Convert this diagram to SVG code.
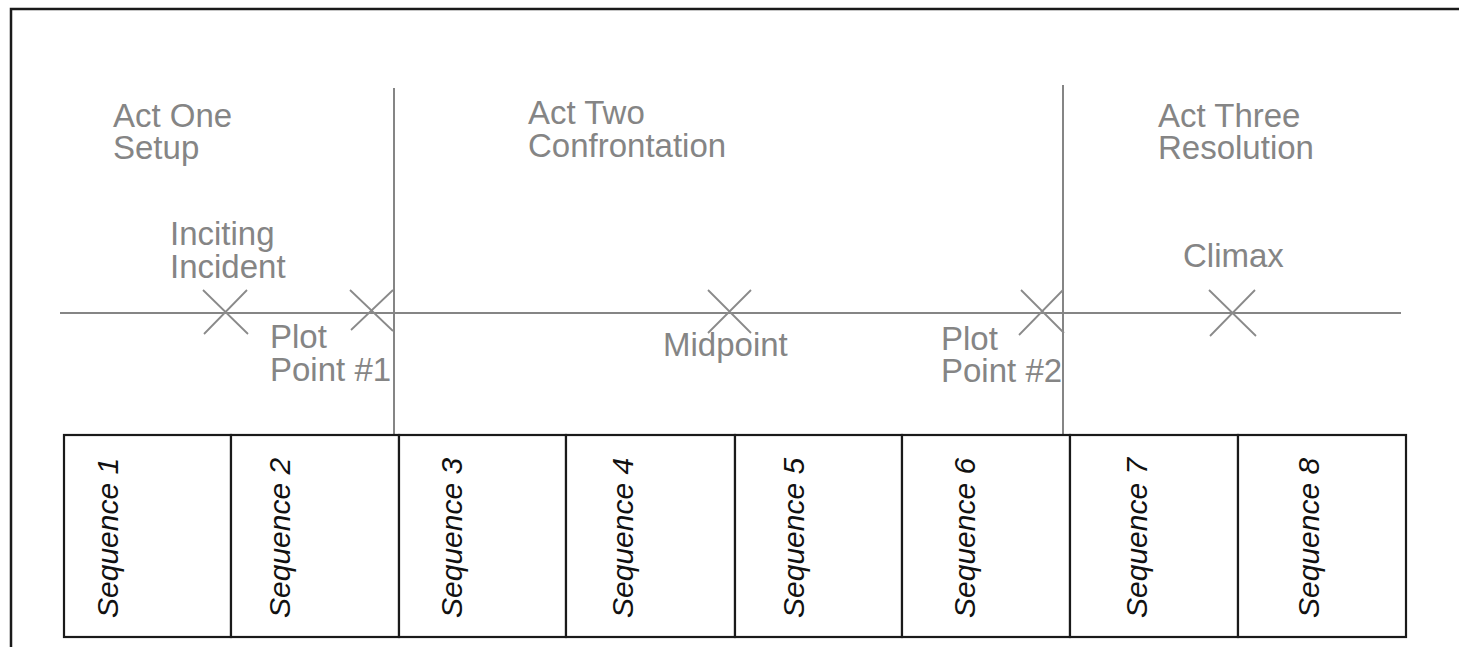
<svg xmlns="http://www.w3.org/2000/svg" width="1459" height="647" viewBox="0 0 1459 647">
<style>
.lbl{font-family:"Liberation Sans",Arial,sans-serif;font-size:33px;fill:#858585}
.seq{font-family:"Liberation Sans",Arial,sans-serif;font-size:30px;font-style:italic;fill:#111}
.gl{stroke:#858585;stroke-width:2;fill:none}
.xm{stroke:#8a8a8a;stroke-width:1.8;fill:none}
.box{stroke:#1a1a1a;stroke-width:2.2;fill:#fff}
</style>
<rect x="0" y="0" width="1459" height="647" fill="#fff"/>
<rect id="frame" x="11" y="9" width="1470" height="660" fill="none" stroke="#1a1a1a" stroke-width="2.5"/>
<g id="connectors">
<line class="gl" x1="60" y1="313" x2="1401" y2="313"/>
<line class="gl" x1="394" y1="88" x2="394" y2="435"/>
<line class="gl" x1="1063" y1="85" x2="1063" y2="435"/>
</g>
<g id="act-one"><text class="lbl" x="113" y="127">Act One</text><text class="lbl" x="113" y="159">Setup</text></g>
<g id="act-two"><text class="lbl" x="528" y="124">Act Two</text><text class="lbl" x="528" y="157">Confrontation</text></g>
<g id="act-three"><text class="lbl" x="1158" y="127">Act Three</text><text class="lbl" x="1158" y="159">Resolution</text></g>
<g id="inciting-incident"><text class="lbl" x="170" y="245">Inciting</text><text class="lbl" x="170" y="278">Incident</text><path class="xm" d="M203 290 L248 334 M247 290 L204 334"/></g>
<g id="plot-point-1"><text class="lbl" x="270" y="348">Plot</text><text class="lbl" x="270" y="381">Point #1</text><path class="xm" d="M350 290 L393 331 M393 290 L351 330"/></g>
<g id="midpoint"><text class="lbl" x="663" y="356">Midpoint</text><path class="xm" d="M708 290 L751 333 M751 290 L708 333"/></g>
<g id="plot-point-2"><text class="lbl" x="941" y="350">Plot</text><text class="lbl" x="941" y="382">Point #2</text><path class="xm" d="M1021 290 L1064 333 M1063 290 L1019 335"/></g>
<g id="climax"><text class="lbl" x="1183" y="267">Climax</text><path class="xm" d="M1209 290 L1256 336 M1255 290 L1210 336"/></g>
<g id="sequence-1"><rect class="box" x="64" y="435" width="167" height="202"/><text class="seq" transform="translate(118,618) rotate(-90)">Sequence 1</text></g>
<g id="sequence-2"><rect class="box" x="231" y="435" width="168" height="202"/><text class="seq" transform="translate(290,618) rotate(-90)">Sequence 2</text></g>
<g id="sequence-3"><rect class="box" x="399" y="435" width="167" height="202"/><text class="seq" transform="translate(462,618) rotate(-90)">Sequence 3</text></g>
<g id="sequence-4"><rect class="box" x="566" y="435" width="169" height="202"/><text class="seq" transform="translate(633,618) rotate(-90)">Sequence 4</text></g>
<g id="sequence-5"><rect class="box" x="735" y="435" width="167" height="202"/><text class="seq" transform="translate(804,618) rotate(-90)">Sequence 5</text></g>
<g id="sequence-6"><rect class="box" x="902" y="435" width="168" height="202"/><text class="seq" transform="translate(975,618) rotate(-90)">Sequence 6</text></g>
<g id="sequence-7"><rect class="box" x="1070" y="435" width="168" height="202"/><text class="seq" transform="translate(1147,618) rotate(-90)">Sequence 7</text></g>
<g id="sequence-8"><rect class="box" x="1238" y="435" width="168" height="202"/><text class="seq" transform="translate(1319,618) rotate(-90)">Sequence 8</text></g>
</svg>
